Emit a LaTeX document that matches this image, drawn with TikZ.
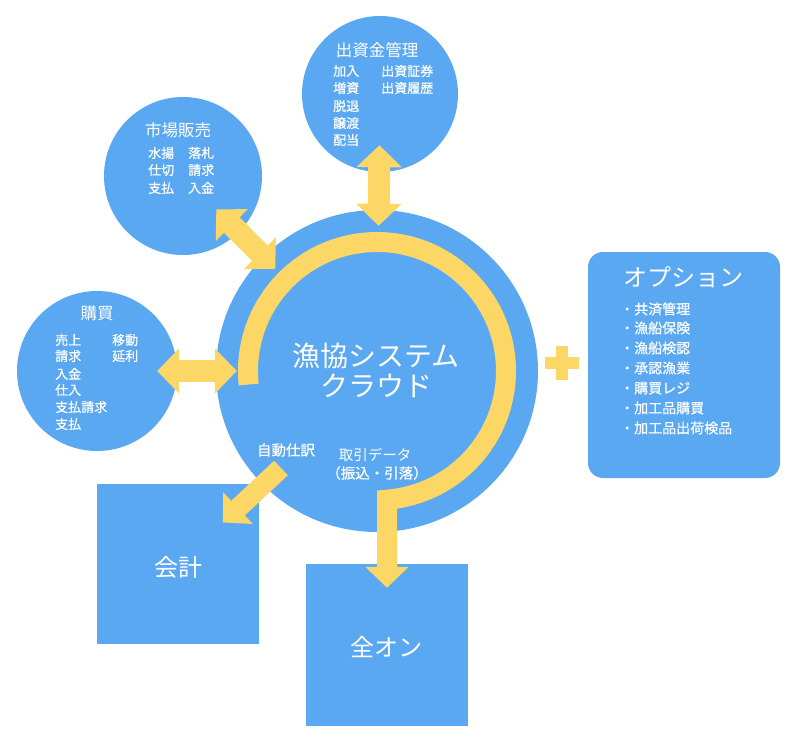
\documentclass[tikz,border=0pt]{standalone}
\usepackage{fontspec}
\setmainfont{Noto Sans CJK JP}
\newfontfamily\futoji[FakeBold=0.6]{Noto Sans CJK JP}
\usetikzlibrary{arrows.meta}
\definecolor{kumo}{RGB}{91,168,242}
\definecolor{ki}{RGB}{253,215,102}
\begin{document}
\begin{tikzpicture}[x=1pt,y=-1pt,
  maru/.style={circle,fill=kumo,inner sep=0pt},
  hako/.style={rectangle,fill=kumo,inner sep=0pt},
  moji/.style={text=white,inner sep=0pt,font=\futoji\fontsize{13pt}{15pt}\selectfont},
  komoji/.style={moji,anchor=west},
  midashi/.style={text=white,inner sep=0pt,font=\fontsize{16.5pt}{18pt}\selectfont},
  oomoji/.style={text=white,inner sep=0pt,font=\fontsize{24pt}{26pt}\selectfont},
  sojo/.style={draw=ki,line width=22pt,{Triangle[width=44pt,length=22pt]}-{Triangle[width=44pt,length=22pt]}},
  katayaji/.style={draw=ki,line width=20pt,-{Triangle[width=42pt,length=21pt]}}]
\useasboundingbox (0,0) rectangle (800,742);

\node[maru,minimum size=322pt] (cloud) at (377,371) {};
\node[maru,minimum size=156pt] (shusshi) at (380,94) {};
\node[maru,minimum size=158pt] (shijo) at (183,176) {};
\node[maru,minimum size=160pt] (kobai) at (97,371) {};
\node[hako,minimum width=162pt,minimum height=160pt] (kaikei) at (178,564) {};
\node[hako,minimum width=162pt,minimum height=162pt] (zenon) at (387,645) {};
\node[hako,rounded corners=15pt,minimum width=192pt,minimum height=226pt] (option) at (684,365) {};

\draw[sojo,shorten <=-27pt,shorten >=-16pt] (shusshi) -- (cloud);
\draw[sojo,shorten <=-32pt,shorten >=-17pt] (shijo) -- (cloud);
\draw[sojo,shorten <=-20pt,shorten >=-21pt] (kobai) -- (cloud);

\coordinate (shiwake) at (281,468);
\draw[katayaji,shorten >=-50pt] (shiwake) -- (kaikei);

\coordinate (wa) at (248.7,384.5);
\draw[katayaji,shorten >=-24pt] (wa) arc[start angle=174,end angle=445.5,radius=129] -- (zenon.north);

\fill[ki] (545,357) rectangle (579,369);
\fill[ki] (556,346) rectangle (568,380);

\node[text=white,inner sep=0pt,align=center,font=\fontsize{28pt}{30pt}\selectfont] (cloudT) at (376,370) {漁協システム\\クラウド};
\node[moji,font=\futoji\fontsize{14.5pt}{16pt}\selectfont] (jido) at (286,450) {自動仕訳};
\node[moji,font=\fontsize{14.5pt}{16pt}\selectfont] (torihiki) at (375,455) {取引データ};
\node[moji,font=\futoji\fontsize{14.5pt}{16pt}\selectfont] (furikomi) at (377,473) {（振込・引落）};

\node[midashi] (shusshiT) at (377,50) {出資金管理};
\node[komoji] (s1) at (333,71) {加入};
\node[komoji] (s2) at (333,88) {増資};
\node[komoji] (s3) at (333,106) {脱退};
\node[komoji] (s4) at (333,123) {譲渡};
\node[komoji] (s5) at (333,140) {配当};
\node[komoji] (s6) at (381,71) {出資証券};
\node[komoji] (s7) at (381,88) {出資履歴};

\node[midashi] (shijoT) at (178,130) {市場販売};
\node[komoji] (m1) at (148,153) {水揚};
\node[komoji] (m2) at (148,170) {仕切};
\node[komoji] (m3) at (148,188) {支払};
\node[komoji] (m4) at (188,153) {落札};
\node[komoji] (m5) at (188,170) {請求};
\node[komoji] (m6) at (188,188) {入金};

\node[midashi] (kobaiT) at (97,313) {購買};
\node[komoji] (k1) at (55,340) {売上};
\node[komoji] (k2) at (55,356) {請求};
\node[komoji] (k3) at (55,374) {入金};
\node[komoji] (k4) at (55,390) {仕入};
\node[komoji] (k5) at (55,407) {支払請求};
\node[komoji] (k6) at (55,424) {支払};
\node[komoji] (k7) at (112,340) {移動};
\node[komoji] (k8) at (112,356) {延利};

\node[oomoji] (optionT) at (683,277) {オプション};
\node[komoji,font=\futoji\fontsize{14pt}{16pt}\selectfont] (o1) at (620,309) {・共済管理};
\node[komoji,font=\futoji\fontsize{14pt}{16pt}\selectfont] (o2) at (620,328) {・漁船保険};
\node[komoji,font=\futoji\fontsize{14pt}{16pt}\selectfont] (o3) at (620,348) {・漁船検認};
\node[komoji,font=\futoji\fontsize{14pt}{16pt}\selectfont] (o4) at (620,368) {・承認漁業};
\node[komoji,font=\futoji\fontsize{14pt}{16pt}\selectfont] (o5) at (620,388) {・購買レジ};
\node[komoji,font=\futoji\fontsize{14pt}{16pt}\selectfont] (o6) at (620,408) {・加工品購買};
\node[komoji,font=\futoji\fontsize{14pt}{16pt}\selectfont] (o7) at (620,428) {・加工品出荷検品};

\node[oomoji] (kaikeiT) at (178,567) {会計};
\node[oomoji] (zenonT) at (386,647) {全オン};
\end{tikzpicture}
\end{document}
